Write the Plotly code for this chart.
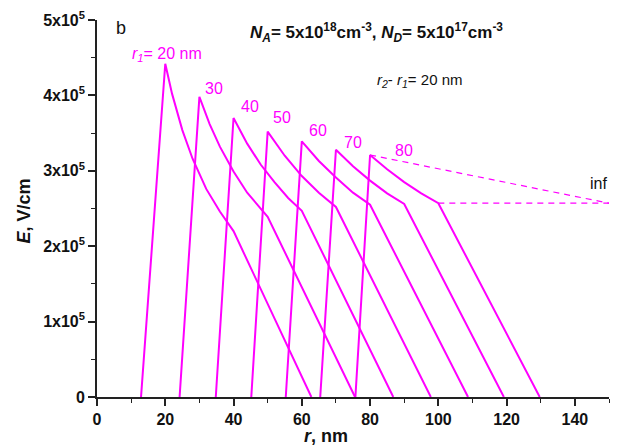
import plotly.graph_objects as go

# Inner radius r1 of each structure (nm) and the corresponding curve labels
R1 = [20, 30, 40, 50, 60, 70, 80]
LABELS = ["20", "30", "40", "50", "60", "70", "80"]

# Depletion edges where the field falls to zero (nm)
R_START = [12.9, 24.2, 34.8, 45.2, 55.3, 65.4, 75.7]
R_END = [62.8, 75.6, 86.8, 97.8, 108.7, 119.2, 129.7]

# Field from the peak at r1 down to the knee at r2 = r1 + 20 nm (units of 1e5 V/cm)
DESCENT_R = [
    [20, 22, 25, 28, 32, 36, 40],
    [30, 33, 36, 40, 44, 50],
    [40, 44, 48, 52, 56, 60],
    [50, 55, 60, 65, 70],
    [60, 65, 70, 75, 80],
    [70, 75, 80, 85, 90],
    [80, 85, 90, 95, 100],
]
DESCENT_E = [
    [4.42, 4.02, 3.54, 3.16, 2.76, 2.46, 2.20],
    [3.98, 3.62, 3.32, 2.99, 2.71, 2.39],
    [3.70, 3.36, 3.08, 2.85, 2.64, 2.47],
    [3.52, 3.20, 2.93, 2.71, 2.52],
    [3.39, 3.13, 2.91, 2.71, 2.55],
    [3.28, 3.06, 2.87, 2.70, 2.56],
    [3.21, 3.02, 2.85, 2.70, 2.57],
]

# Limiting case r1 -> infinity, drawn as dashed guides
INF_R = 150
INF_E = 2.57

X_TICKS = [0, 20, 40, 60, 80, 100, 120, 140]
Y_TICKS = [0, 1e5, 2e5, 3e5, 4e5, 5e5]
Y_TICK_TEXT = ["0", "1x10<sup>5</sup>", "2x10<sup>5</sup>", "3x10<sup>5</sup>",
               "4x10<sup>5</sup>", "5x10<sup>5</sup>"]

MAGENTA = "#ff00ff"
AXIS = "#222222"
FONT = "Liberation Sans, Arial, sans-serif"
SCALE = 1e5

fig = go.Figure()

for i in range(len(R1)):
    xs = [R_START[i]] + DESCENT_R[i] + [R_END[i]]
    ys = [0.0] + [v * SCALE for v in DESCENT_E[i]] + [0.0]
    fig.add_trace(go.Scatter(x=xs, y=ys, mode="lines",
                             line=dict(color=MAGENTA, width=2),
                             hoverinfo="skip", showlegend=False))

# dashed guides converging towards the r1 -> infinity value
last = len(R1) - 1
fig.add_trace(go.Scatter(
    x=[DESCENT_R[last][0], INF_R], y=[DESCENT_E[last][0] * SCALE, INF_E * SCALE],
    mode="lines", line=dict(color=MAGENTA, width=1.2, dash="6px,5px"),
    hoverinfo="skip", showlegend=False))
fig.add_trace(go.Scatter(
    x=[DESCENT_R[last][-1], INF_R], y=[DESCENT_E[last][-1] * SCALE, INF_E * SCALE],
    mode="lines", line=dict(color=MAGENTA, width=1.2, dash="6px,5px"),
    hoverinfo="skip", showlegend=False))

# curve labels
label_pos = [(20.6, 4.54), (34.2, 4.09), (44.7, 3.85), (54.3, 3.71),
             (64.8, 3.54), (75.0, 3.38), (89.8, 3.27)]
for i, (lx, ly) in enumerate(label_pos):
    text = LABELS[i] if i else "<i>r</i><sub><i>1</i></sub>= " + LABELS[i] + " nm"
    fig.add_annotation(x=lx, y=ly * SCALE, text=text, showarrow=False,
                       xanchor="center", yanchor="middle",
                       font=dict(family=FONT, size=16, color=MAGENTA))

fig.add_annotation(x=147, y=2.83 * SCALE, text="inf", showarrow=False,
                   xanchor="center", yanchor="middle",
                   font=dict(family=FONT, size=16, color="#111111"))

W, H = 618, 448
L, R, T, B = 97, 9, 17, 51
pw, ph = W - L - R, H - T - B


def px(x, y):
    return (x - L) / pw, (H - B - y) / ph


for text, (x, y), size, weight, angle in [
    ("b", (121, 25), 18, "normal", 0),
    ("<i>N</i><sub><i>A</i></sub>= 5x10<sup>18</sup>cm<sup>-3</sup>, "
     "<i>N</i><sub><i>D</i></sub>= 5x10<sup>17</sup>cm<sup>-3</sup>", (376, 30), 17, "bold", 0),
    ("<i>r</i><sub><i>2</i></sub>- <i>r</i><sub><i>1</i></sub>= 20 nm", (419, 78), 15, "normal", 0),
    ("<i>r</i>, nm", (326, 436), 18, "bold", 0),
    ("<i>E</i>, V/cm", (24, 210), 18, "bold", -90),
]:
    ax_, ay_ = px(x, y)
    fig.add_annotation(x=ax_, y=ay_, xref="paper", yref="paper", text=text,
                       showarrow=False, xanchor="center", yanchor="middle",
                       textangle=angle,
                       font=dict(family=FONT, size=size, color="#111111", weight=weight))

fig.update_xaxes(range=[0, 150], tickvals=X_TICKS, showline=True, linecolor=AXIS,
                 linewidth=1.6, ticks="outside", ticklen=7, tickwidth=1.6,
                 tickcolor=AXIS, showgrid=False, zeroline=False,
                 minor=dict(dtick=10, tick0=0, ticks="outside", ticklen=4,
                            tickwidth=1.4, tickcolor=AXIS, showgrid=False),
                 tickfont=dict(family=FONT, size=16, color="#111111", weight="bold"))
fig.update_yaxes(range=[0, 5e5], tickvals=Y_TICKS, ticktext=Y_TICK_TEXT,
                 showline=True, linecolor=AXIS, linewidth=1.6, ticks="outside",
                 ticklen=7, tickwidth=1.6, tickcolor=AXIS, showgrid=False,
                 zeroline=False,
                 minor=dict(dtick=5e4, tick0=0, ticks="outside", ticklen=4,
                            tickwidth=1.4, tickcolor=AXIS, showgrid=False),
                 tickfont=dict(family=FONT, size=16, color="#111111", weight="bold"))

fig.update_layout(width=W, height=H, margin=dict(l=L, r=R, t=T, b=B),
                  paper_bgcolor="white", plot_bgcolor="white",
                  font=dict(family=FONT), showlegend=False)

fig.write_html("out.html")
